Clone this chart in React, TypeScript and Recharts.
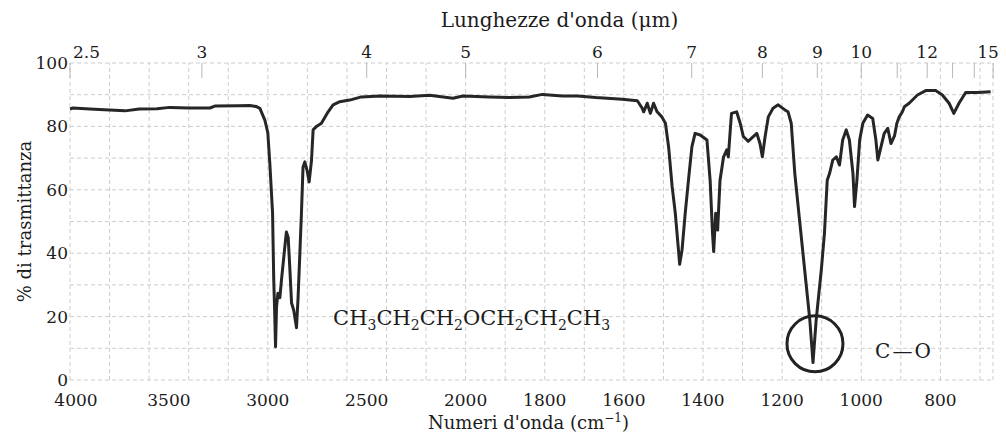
import { LineChart, Line, XAxis, YAxis, ReferenceLine, ReferenceDot } from "recharts";

// IR spectrum of dipropyl ether
const wavenumbers = [
  4000, 3985, 3900, 3800, 3722, 3650, 3560, 3495, 3400, 3293, 3268, 3150, 3091, 3060, 3040, 3015, 3000, 2990,
  2976, 2970, 2965, 2961, 2956, 2949, 2939, 2931, 2914, 2906, 2897, 2889, 2880, 2869, 2855, 2847, 2838, 2830,
  2822, 2813, 2801, 2791, 2779, 2771, 2754, 2729, 2695, 2670, 2636, 2586, 2527, 2434, 2283, 2182, 2064, 2014,
  1940, 1889, 1839, 1806, 1755, 1717, 1671, 1604, 1566, 1554, 1550, 1541, 1533, 1525, 1516, 1504, 1495, 1487,
  1478, 1470, 1462, 1459, 1453, 1445, 1436, 1428, 1420, 1407, 1390, 1382, 1376, 1373, 1368, 1363, 1357, 1348,
  1340, 1336, 1328, 1315, 1306, 1298, 1286, 1273, 1264, 1256, 1250, 1243, 1235, 1223, 1210, 1193, 1185, 1177,
  1168, 1156, 1143, 1130, 1122, 1114, 1101, 1093, 1086, 1080, 1072, 1063, 1055, 1047, 1038, 1030, 1021, 1017,
  1011, 1004, 996, 984, 971, 963, 958, 950, 942, 933, 925, 916, 910, 904, 896, 891, 879, 858, 837, 812, 795,
  778, 766, 753, 736, 706, 673,
];
const transmittance = [
  85.5, 85.8, 85.5, 85.2, 84.9, 85.5, 85.6, 86.0, 85.8, 85.8, 86.4, 86.5, 86.6, 86.3, 85.7, 82, 78, 68.5,
  52.7, 31.5, 21, 10.5, 23, 27.4, 26, 31.5, 42, 46.7, 45, 35.6, 24.3, 22, 16.5, 26, 40, 52.6,
  67.2, 68.8, 66, 62.5, 69.4, 78.9, 80, 81, 84.6, 86.8, 87.8, 88.3, 89.3, 89.6, 89.4, 89.8, 88.9, 89.6,
  89.3, 89.1, 89.3, 90.1, 89.6, 89.6, 89.1, 88.6, 88.1, 85.8, 84.6, 87.3, 84.1, 87.3, 84.6, 83, 81, 73.6,
  61, 52.6, 41, 36.5, 41, 52.6, 64, 73.6, 77.8, 77.3, 75.7, 63, 46.4, 40.5, 52.6, 47.3, 63, 70.4,
  72.6, 70.4, 84.1, 84.6, 81, 76.8, 75.3, 76.8, 77.8, 74.6, 70.4, 76.8, 83, 85.7, 86.8, 85.2, 84.6, 81,
  65.2, 50.5, 34.7, 18.9, 5.5, 18.9, 34.7, 46.3, 63, 65.2, 69.4, 70.4, 67.8, 75.7, 78.9, 75.7, 65.2, 54.7,
  63, 75.7, 81, 83.6, 82.5, 75.7, 69.4, 73.6, 77.8, 79.4, 74.6, 77, 81, 83, 84.6, 86.2, 87.3, 89.9, 91.3, 91.3, 89.9,
  87.3, 84.1, 87.3, 90.7, 90.7, 90.9,
];

const bottomTicks = [4000, 3500, 3000, 2500, 2000, 1800, 1600, 1400, 1200, 1000, 800];
const topMicrons = [2.5, 3, 4, 5, 6, 7, 8, 9, 10, 11, 12, 13, 14, 15];
const topLabels = [2.5, 3, 4, 5, 6, 7, 8, 9, 10, 12, 15];
const yTicks = [0, 20, 40, 60, 80, 100];
const gridT = [0, 10, 20, 30, 40, 50, 60, 70, 80, 90, 100];
const gridWn = [
  4000, 3800, 3600, 3400, 3200, 3000, 2800, 2600, 2400, 2200, 2000, 1900, 1800, 1700, 1600, 1500, 1400, 1300,
  1200, 1100, 1000, 900, 800, 700, 667,
];
const wnEnd = 667;

// chart paper: scale doubles below 2000 cm-1
const toPos = (wn: number) => (wn >= 2000 ? 4000 - wn : 2000 + 2 * (2000 - wn));
const fromPos = (p: number) => (p <= 2000 ? 4000 - p : 2000 - (p - 2000) / 2);

const spectrum = wavenumbers.map((wn, i) => ({ pos: toPos(wn), t: transmittance[i] }));

const FONT = "'DejaVu Serif', serif";
const INK = "#1c1c1c";
const GRID = "#cdcdcd";

function BottomTick(props: any) {
  const { x, y, payload } = props;
  const wn = Math.round(fromPos(payload.value));
  return (
    <text x={wn === 4000 ? x + 6 : x} y={y + 26} textAnchor="middle" fontFamily={FONT} fontSize={17} fill={INK}>
      {wn}
    </text>
  );
}

function TopTick(props: any) {
  const { x, y, payload } = props;
  const um = Math.round((10000 / fromPos(payload.value)) * 10) / 10;
  const show = topLabels.includes(um);
  let tx = x;
  let anchor: "middle" | "start" = "middle";
  if (um === 2.5) {
    tx = x + 3;
    anchor = "start";
  }
  if (um === 15) tx = x - 5;
  return (
    <g>
      <line x1={x} x2={x} y1={y} y2={y + 15} stroke="#b8b8b8" strokeWidth={1} />
      {show && (
        <text x={tx} y={y - 5} textAnchor={anchor} fontFamily={FONT} fontSize={17} fill={INK}>
          {String(um)}
        </text>
      )}
    </g>
  );
}

export default function App() {
  return (
    <div style={{ position: "absolute", left: 0, top: 0, width: 1006, height: 435, background: "#fff" }}>
      <LineChart width={1006} height={435} data={spectrum} margin={{ top: 33, right: 13, bottom: 25, left: 0 }}>
        <XAxis
          xAxisId="bottom"
          type="number"
          dataKey="pos"
          domain={[0, toPos(wnEnd)]}
          ticks={bottomTicks.map(toPos)}
          interval={0}
          tick={<BottomTick />}
          tickSize={0}
          tickMargin={0}
          axisLine={false}
          tickLine={false}
          height={30}
          label={{
            content: (p: any) => {
              const vb = p.viewBox;
              return (
                <text x={vb.x + vb.width / 2 - 3} y={429} textAnchor="middle" fontFamily={FONT} fontSize={18} fill={INK}>
                  Numeri d'onda (cm
                  <tspan dy={-7} fontSize={12}>−1</tspan>
                  <tspan dy={7}>)</tspan>
                </text>
              );
            },
          }}
        />
        <XAxis
          xAxisId="top"
          orientation="top"
          type="number"
          dataKey="pos"
          domain={[0, toPos(wnEnd)]}
          ticks={topMicrons.map((m) => toPos(10000 / m))}
          interval={0}
          tick={<TopTick />}
          tickSize={0}
          tickMargin={0}
          axisLine={false}
          tickLine={false}
          height={30}
          label={{
            content: (p: any) => {
              const vb = p.viewBox;
              return (
                <text x={vb.x + vb.width / 2 + 28} y={27} textAnchor="middle" fontFamily={FONT} fontSize={20} fill={INK}>
                  Lunghezze d'onda (μm)
                </text>
              );
            },
          }}
        />
        <YAxis
          type="number"
          domain={[0, 100]}
          ticks={yTicks}
          interval={0}
          width={70}
          tickSize={0}
          tickMargin={2}
          axisLine={false}
          tickLine={false}
          tick={{ fontFamily: FONT, fontSize: 17, fill: INK }}
          label={{
            content: (p: any) => {
              const vb = p.viewBox;
              const cy = vb.y + vb.height / 2;
              return (
                <text
                  x={31}
                  y={cy}
                  transform={`rotate(-90 31 ${cy})`}
                  textAnchor="middle"
                  fontFamily={FONT}
                  fontSize={18}
                  fill={INK}
                >
                  % di trasmittanza
                </text>
              );
            },
          }}
        />
        {gridT.map((v) => (
          <ReferenceLine key={"h" + v} xAxisId="bottom" y={v} stroke={GRID} strokeDasharray="4 3" />
        ))}
        {gridWn.map((w) => (
          <ReferenceLine key={"v" + w} xAxisId="bottom" x={toPos(w)} stroke={GRID} strokeDasharray="4 3" />
        ))}
        <Line
          xAxisId="bottom"
          type="linear"
          dataKey="t"
          stroke="#262626"
          strokeWidth={3}
          dot={false}
          strokeLinejoin="round"
          isAnimationActive={false}
        />
        <ReferenceDot
          xAxisId="bottom"
          x={toPos(1117)}
          y={11.4}
          r={28}
          fill="none"
          stroke="#222"
          strokeWidth={3}
        />
        <ReferenceDot
          xAxisId="bottom"
          x={toPos(2670)}
          y={17.4}
          r={0}
          shape={(p: any) => (
            <text x={p.cx} y={p.cy} fontFamily={FONT} fontSize={21} fill={INK}>
              CH<tspan dy={5} fontSize={14}>3</tspan>
              <tspan dy={-5}>CH</tspan><tspan dy={5} fontSize={14}>2</tspan>
              <tspan dy={-5}>CH</tspan><tspan dy={5} fontSize={14}>2</tspan>
              <tspan dy={-5}>OCH</tspan><tspan dy={5} fontSize={14}>2</tspan>
              <tspan dy={-5}>CH</tspan><tspan dy={5} fontSize={14}>2</tspan>
              <tspan dy={-5}>CH</tspan><tspan dy={5} fontSize={14}>3</tspan>
            </text>
          )}
        />
        <ReferenceDot
          xAxisId="bottom"
          x={toPos(965)}
          y={6.9}
          r={0}
          shape={(p: any) => (
            <text x={p.cx} y={p.cy} fontFamily={FONT} fontSize={20} fill={INK} letterSpacing={2}>
              C—O
            </text>
          )}
        />
      </LineChart>
    </div>
  );
}
